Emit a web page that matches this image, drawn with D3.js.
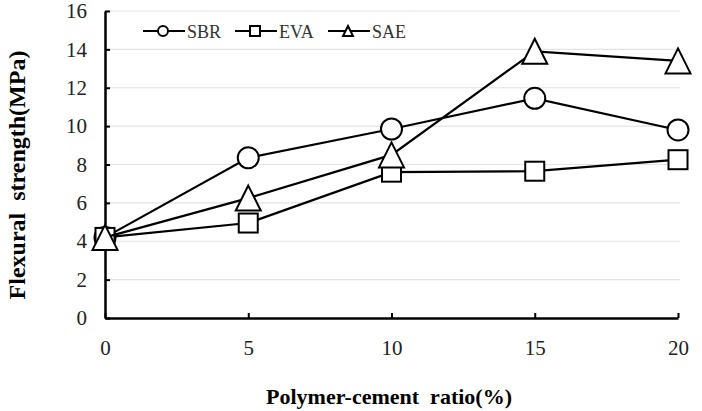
<!DOCTYPE html>
<html>
<head>
<meta charset="utf-8">
<script src="https://cdn.jsdelivr.net/npm/d3@7"></script>
<style>
  body { margin: 0; background: #fff; }
</style>
</head>
<body>
<div id="chart"></div>
<script>
// polymer-cement ratio (%)
var ratios = [0, 5, 10, 15, 20]
var sbr = [4.2, 8.35, 9.85, 11.45, 9.8]
var eva = [4.2, 4.95, 7.6, 7.65, 8.25]
var sae = [4.2, 6.25, 8.5, 13.9, 13.4]
var seriesNames = ['SBR', 'EVA', 'SAE']
var seriesShapes = ['circle', 'square', 'triangle']
var yTicks = [0, 2, 4, 6, 8, 10, 12, 14, 16]
var xTicks = [0, 5, 10, 15, 20]

var FONT = '"Liberation Serif", "Times New Roman", serif'
var width = 702
var height = 411
const svg = d3.select('#chart')
    .append('svg')
    .attr('width', width)
    .attr('height', height)
    .attr('font-family', FONT)

var xScale = d3.scaleLinear().domain([0, 20]).range([105, 678])
var yScale = d3.scaleLinear().domain([0, 16]).range([318, 11])

// grid
svg.append('g')
    .selectAll('line')
    .data(yTicks.filter(d => d > 0))
    .enter()
    .append('line')
    .attr('x1', xScale(0))
    .attr('x2', xScale(20) + 2)
    .attr('y1', d => yScale(d))
    .attr('y2', d => yScale(d))
    .attr('stroke', '#e3e3e3')
    .attr('stroke-width', 1.2)

// axes
var xAxis = svg.append('g')
    .attr('transform', 'translate(0,' + yScale(0) + ')')
    .call(d3.axisBottom(xScale).tickValues(xTicks).tickSizeInner(-5).tickSizeOuter(0).tickPadding(22))
var yAxis = svg.append('g')
    .attr('transform', 'translate(' + xScale(0) + ',0)')
    .call(d3.axisLeft(yScale).tickValues(yTicks).tickSizeInner(-5).tickSizeOuter(0).tickPadding(18))
;[xAxis, yAxis].forEach(ax => {
    ax.attr('font-family', FONT).attr('font-size', 21)
    ax.select('.domain').attr('stroke', '#000').attr('stroke-width', 2.5)
    ax.selectAll('.tick line').attr('stroke', '#000').attr('stroke-width', 2)
    ax.selectAll('.tick text')
        .style('font-family', FONT)
        .style('font-size', '21px')
        .attr('fill', '#222')
})

// axis titles
svg.append('text')
    .attr('x', 389)
    .attr('y', 404)
    .attr('text-anchor', 'middle')
    .style('font-family', FONT)
    .style('font-size', '22px')
    .style('font-weight', 'bold')
    .style('white-space', 'pre')
    .text('Polymer-cement  ratio(%)')
svg.append('text')
    .attr('transform', 'translate(25,175) rotate(-90)')
    .attr('text-anchor', 'middle')
    .style('font-family', FONT)
    .style('font-size', '24px')
    .style('font-weight', 'bold')
    .style('white-space', 'pre')
    .text('Flexural  strength(MPa)')

function marker(g, shape, size) {
    if (shape == 'circle') {
        g.append('circle').attr('r', size / 2)
    } else if (shape == 'square') {
        g.append('rect').attr('x', -size / 2).attr('y', -size / 2).attr('width', size).attr('height', size)
    } else {
        var h = size
        g.append('path').attr('d', 'M0,' + (-h / 2) + 'L' + (size / 2) + ',' + (h / 2) + 'L' + (-size / 2) + ',' + (h / 2) + 'Z')
    }
    g.selectAll('*').attr('fill', '#fff').attr('stroke', '#000').attr('stroke-width', 2)
}

var line = d3.line().x(d => xScale(d[0])).y(d => yScale(d[1]))
var sizes = { circle: 21, square: 19, triangle: 25 }

;[sbr, eva, sae].forEach((vals, i) => {
    var pts = ratios.map((r, j) => [r, vals[j]])
    svg.append('path')
        .datum(pts)
        .attr('d', line)
        .attr('fill', 'none')
        .attr('stroke', '#000')
        .attr('stroke-width', 2.2)
    pts.forEach(p => {
        var g = svg.append('g').attr('transform', 'translate(' + xScale(p[0]) + ',' + yScale(p[1]) + ')')
        marker(g, seriesShapes[i], sizes[seriesShapes[i]])
    })
})

// legend
var legendX = [143, 235, 328]
var legendSizes = { circle: 10, square: 10, triangle: 10 }
seriesNames.forEach((name, i) => {
    var lg = svg.append('g').attr('transform', 'translate(' + legendX[i] + ',31)')
    lg.append('line').attr('x1', 0).attr('x2', 42).attr('y1', 0).attr('y2', 0)
        .attr('stroke', '#000').attr('stroke-width', 2.2)
    marker(lg.append('g').attr('transform', 'translate(20,0)'), seriesShapes[i], legendSizes[seriesShapes[i]])
    lg.append('text')
        .attr('x', 44)
        .attr('y', 6.5)
        .style('font-family', FONT)
        .style('font-size', '18px')
        .attr('fill', '#333')
        .text(name)
})
</script>
</body>
</html>
